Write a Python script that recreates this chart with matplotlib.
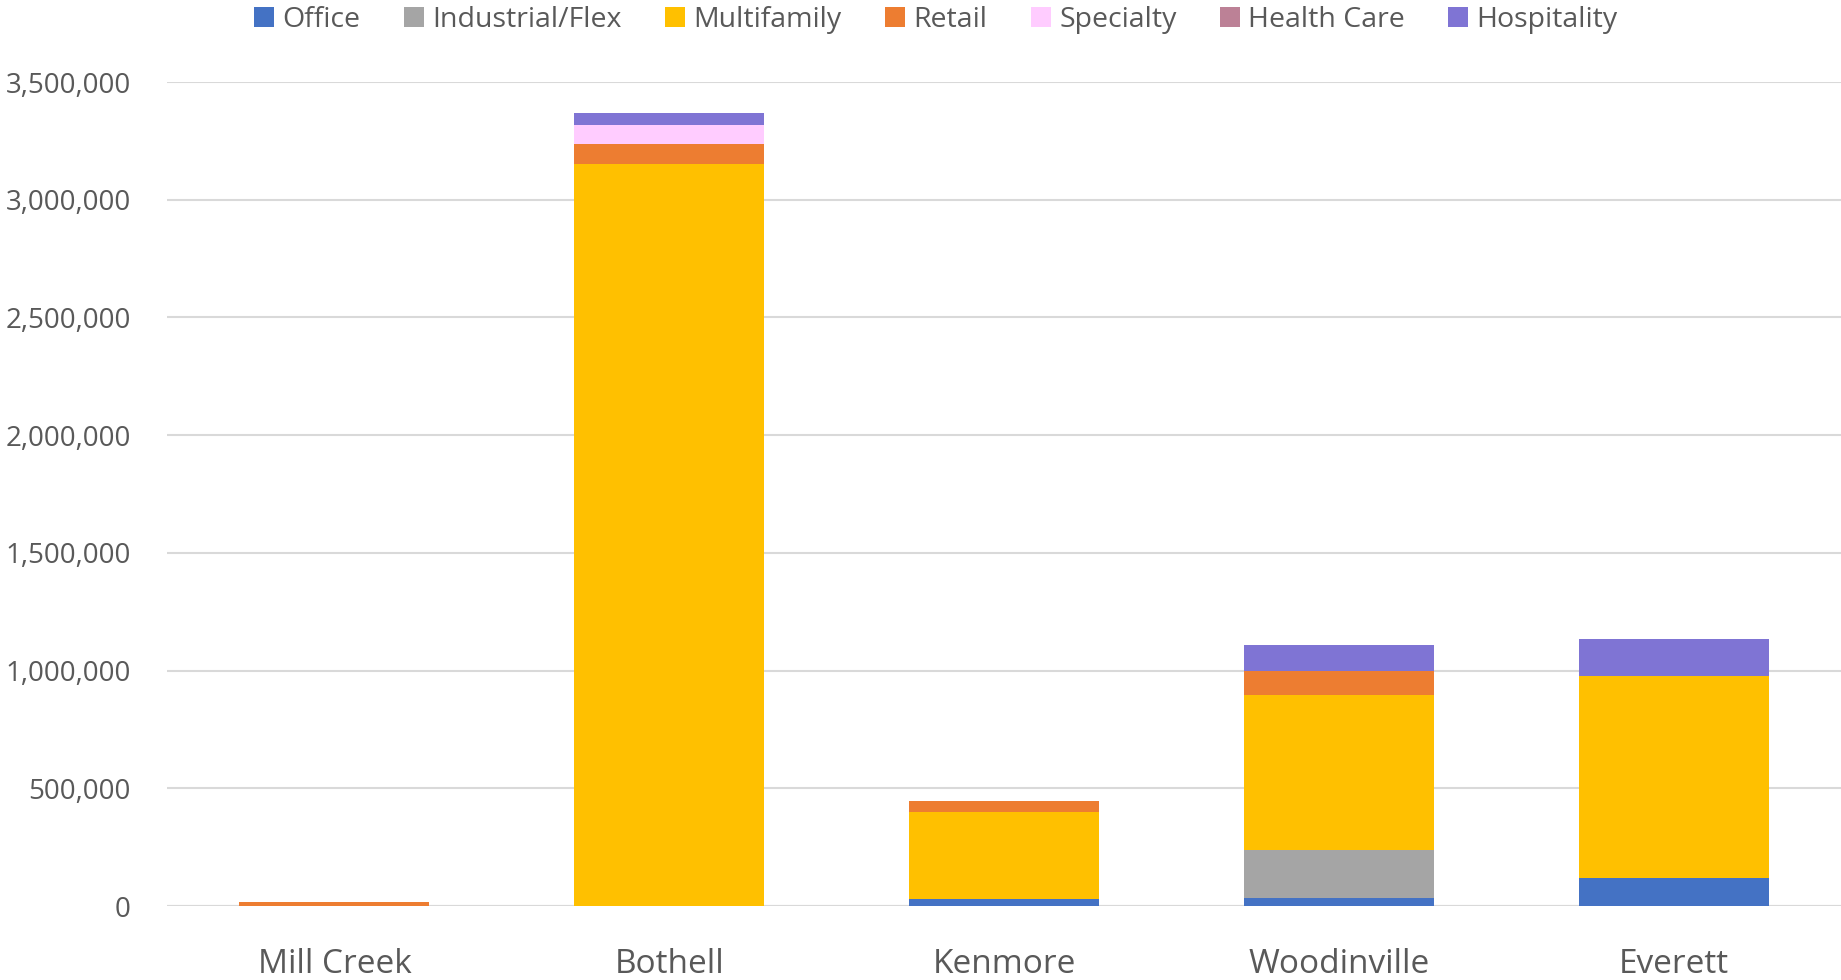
import matplotlib
matplotlib.use("Agg")
import matplotlib.pyplot as plt
from matplotlib.ticker import FuncFormatter
import numpy as np

cities = ["Mill Creek", "Bothell", "Kenmore", "Woodinville", "Everett"]
series_names = ["Office", "Industrial/Flex", "Multifamily", "Retail", "Specialty", "Health Care", "Hospitality"]
office = [0, 0, 31000, 35000, 118000]
industrial = [0, 0, 0, 203000, 0]
multifamily = [0, 3151000, 369000, 659000, 857000]
retail = [15000, 86000, 45000, 103000, 0]
specialty = [0, 81000, 0, 0, 0]
health_care = [0, 0, 0, 0, 0]
hospitality = [0, 49000, 0, 110000, 161000]
colors = ["#4472C4", "#A5A5A5", "#FFC000", "#ED7D31", "#FFCCFF", "#BC8196", "#7F74D4"]
yticks = [0, 500000, 1000000, 1500000, 2000000, 2500000, 3000000, 3500000]

plt.rcParams['font.family'] = ['Open Sans', 'DejaVu Sans']
text_color = "#595959"

fig = plt.figure(figsize=(18.41, 9.8), dpi=100)
ax = fig.add_axes([167/1841, 1 - 906/980, (1841-167)/1841, (906-82)/980])

data = [office, industrial, multifamily, retail, specialty, health_care, hospitality]
x = np.arange(len(cities))
bottom = np.zeros(len(cities))
handles = []
for name, vals, c in zip(series_names, data, colors):
    vals = np.array(vals, dtype=float)
    b = ax.bar(x, vals, bottom=bottom, width=0.567, color=c, label=name, zorder=3)
    handles.append(b)
    bottom += vals

ax.set_xlim(-0.5, len(cities) - 0.5)
ax.set_ylim(0, 3500000)
ax.set_yticks(yticks)
ax.yaxis.set_major_formatter(FuncFormatter(lambda v, p: f"{int(v):,}"))
ax.set_xticks(x)
ax.set_xticklabels(cities)
ax.grid(axis='y', color="#D9D9D9", linewidth=1.5, zorder=0)
for s in ax.spines.values():
    s.set_visible(False)
ax.tick_params(axis='y', length=0, pad=26, labelsize=20, labelcolor=text_color)
ax.tick_params(axis='x', length=0, pad=30, labelsize=24, labelcolor=text_color)
ax.axhline(0, color="#D9D9D9", linewidth=1.5, zorder=2)

fig.legend(handles=handles, labels=series_names, loc='center', bbox_to_anchor=(936/1841, 1 - 20/980),
           ncol=7, frameon=False, fontsize=20.5, labelcolor=text_color, handlelength=0.7, handleheight=0.7,
           handletextpad=0.3, columnspacing=1.52, borderaxespad=0)

fig.savefig("out.png", dpi=100)
